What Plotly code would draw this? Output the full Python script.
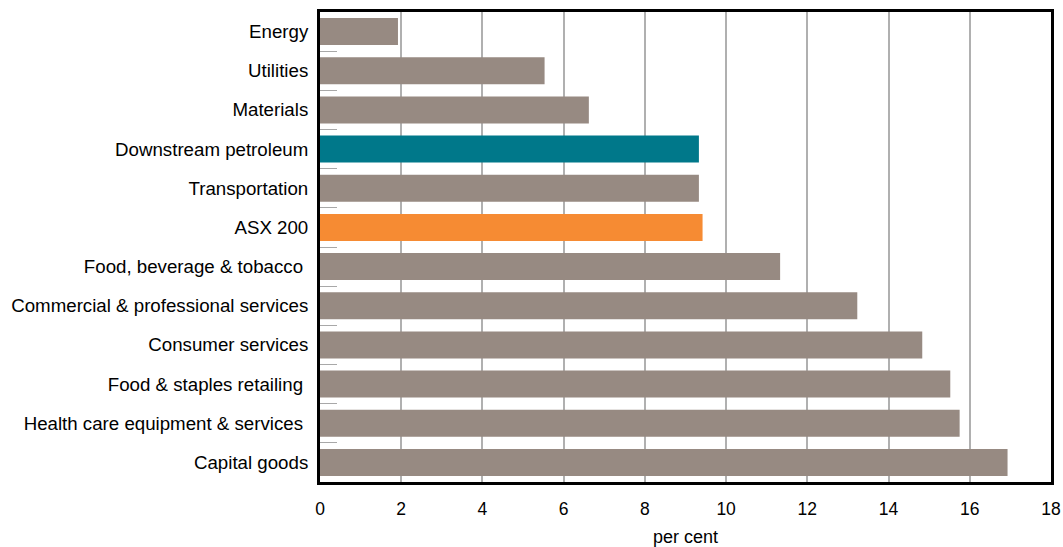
import plotly.graph_objects as go

categories = [
    "Energy",
    "Utilities",
    "Materials",
    "Downstream petroleum",
    "Transportation",
    "ASX 200",
    "Food, beverage & tobacco ",
    "Commercial & professional services",
    "Consumer services",
    "Food & staples retailing ",
    "Health care equipment & services ",
    "Capital goods",
]
values = [1.92, 5.53, 6.62, 9.33, 9.33, 9.42, 11.33, 13.23, 14.83, 15.52, 15.75, 16.93]

GREY = "#978A82"
TEAL = "#00788A"
ORANGE = "#F68B33"
colors = [TEAL if c == "Downstream petroleum" else ORANGE if c == "ASX 200" else GREY
          for c in categories]

x_ticks = [0, 2, 4, 6, 8, 10, 12, 14, 16, 18]

fig = go.Figure(go.Bar(
    x=values, y=categories, orientation="h",
    marker=dict(color=colors, line=dict(width=0)),
    hoverinfo="x+y",
))

fig.update_layout(
    width=1063, height=547,
    margin=dict(l=320, r=12, t=12, b=65),
    paper_bgcolor="white", plot_bgcolor="white",
    font=dict(family="Liberation Sans, Arial, sans-serif", size=18, color="black"),
    bargap=0.31,
    showlegend=False,
)
fig.update_xaxes(
    range=[0, 18], tickvals=x_ticks, ticktext=[str(v) for v in x_ticks],
    showgrid=True, gridcolor="#B0B0B0", gridwidth=2,
    zeroline=False,
    showline=True, linecolor="black", linewidth=3, mirror=True,
    ticks="", ticklabelstandoff=9,
    tickfont=dict(size=17.5),
    title=dict(text="per cent", standoff=14, font=dict(size=18)),
    automargin=False,
)
fig.update_yaxes(
    categoryorder="array", categoryarray=categories, autorange="reversed",
    showgrid=False, zeroline=False,
    showline=True, linecolor="black", linewidth=3, mirror=True,
    ticks="inside", tickson="boundaries", ticklen=17, tickcolor="#A8A8A8", tickwidth=1,
    ticklabelstandoff=5,
    tickfont=dict(size=18.7),
    automargin=False,
)

fig.write_html("out.html", config={"displayModeBar": False},
               post_script="document.body.style.margin='0';")
